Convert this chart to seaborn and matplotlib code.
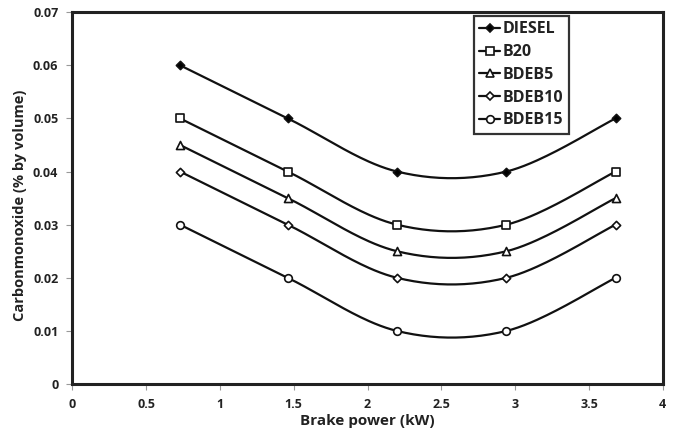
import numpy as np
import pandas as pd
import matplotlib
matplotlib.use("Agg")
import matplotlib.pyplot as plt
import seaborn as sns

# Brake power (kW) and CO emissions (% by volume) for each fuel blend
brake_power = [0.73, 1.46, 2.2, 2.94, 3.68]
diesel = [0.06, 0.05, 0.04, 0.04, 0.05]
b20 = [0.05, 0.04, 0.03, 0.03, 0.04]
bdeb5 = [0.045, 0.035, 0.025, 0.025, 0.035]
bdeb10 = [0.04, 0.03, 0.02, 0.02, 0.03]
bdeb15 = [0.03, 0.02, 0.01, 0.01, 0.02]
fuels = ["DIESEL", "B20", "BDEB5", "BDEB10", "BDEB15"]

x_ticks = [0, 0.5, 1, 1.5, 2, 2.5, 3, 3.5, 4]
y_ticks = [0, 0.01, 0.02, 0.03, 0.04, 0.05, 0.06, 0.07]

series = dict(zip(fuels, [diesel, b20, bdeb5, bdeb10, bdeb15]))
markers = {"DIESEL": "D", "B20": "s", "BDEB5": "^", "BDEB10": "D", "BDEB15": "o"}
msizes = {"DIESEL": 4.2, "B20": 5.3, "BDEB5": 5.8, "BDEB10": 4.2, "BDEB15": 5.5}
faces = {"DIESEL": "black", "B20": "white", "BDEB5": "white", "BDEB10": "white", "BDEB15": "white"}


def smooth_curve(x, y, n=40):
    """Bezier smoothing through points (Catmull-Rom style tangents)."""
    x = np.asarray(x, float)
    y = np.asarray(y, float)
    px = np.concatenate([[x[0]], x, [x[-1]]])
    py = np.concatenate([[y[0]], y, [y[-1]]])
    xs, ys = [], []
    t = np.linspace(0, 1, n)
    for i in range(1, len(px) - 2):
        p0 = np.array([px[i], py[i]])
        p3 = np.array([px[i + 1], py[i + 1]])
        p1 = p0 + (np.array([px[i + 1], py[i + 1]]) - np.array([px[i - 1], py[i - 1]])) / 6
        p2 = p3 - (np.array([px[i + 2], py[i + 2]]) - np.array([px[i], py[i]])) / 6
        b = ((1 - t) ** 3)[:, None] * p0 + (3 * (1 - t) ** 2 * t)[:, None] * p1 \
            + (3 * (1 - t) * t ** 2)[:, None] * p2 + (t ** 3)[:, None] * p3
        xs.extend(b[:, 0])
        ys.extend(b[:, 1])
    return xs, ys


sns.set_theme(style="white")
plt.rcParams["font.family"] = ["Open Sans", "DejaVu Sans"]
plt.rcParams["font.weight"] = "bold"

fig = plt.figure(figsize=(6.75, 4.34), dpi=100)
ax = fig.add_axes([0.107, 0.115, 0.875, 0.857])

for name in fuels:
    vals = series[name]
    cx, cy = smooth_curve(brake_power, vals)
    curve = pd.DataFrame({"x": cx, "y": cy})
    sns.lineplot(data=curve, x="x", y="y", ax=ax, color="#111111", lw=1.6,
                 sort=False, estimator=None, zorder=2)
    pts = pd.DataFrame({"x": brake_power, "y": vals})
    sns.scatterplot(data=pts, x="x", y="y", ax=ax, marker=markers[name],
                    s=msizes[name] ** 2, facecolor=faces[name],
                    edgecolor="#111111", linewidth=1.2, zorder=3)
    ax.plot([], [], color="#111111", lw=1.6, marker=markers[name],
            ms=msizes[name], mfc=faces[name], mec="#111111", mew=1.2,
            label=name)

ax.set_xlim(0, 4)
ax.set_ylim(0, 0.07)
ax.set_xticks(x_ticks)
ax.set_yticks(y_ticks)
ax.set_xticklabels([f"{v:g}" for v in x_ticks])
ax.set_yticklabels([f"{v:g}" for v in y_ticks])
ax.tick_params(axis="both", direction="out", length=4, width=0.8, color="#999999",
               labelsize=9, labelcolor="#222222", bottom=True, left=True, pad=6)
for lab in ax.get_xticklabels() + ax.get_yticklabels():
    lab.set_fontweight("bold")
for s in ax.spines.values():
    s.set_linewidth(2.2)
    s.set_color("#222222")

ax.set_xlabel("Brake power (kW)", fontsize=11, fontweight="bold", color="#222222", labelpad=2)
ax.set_ylabel("Carbonmonoxide (% by volume)", fontsize=10.5, fontweight="bold", color="#222222")
ax.yaxis.set_label_coords(-0.077, 0.48)

leg = ax.legend(loc="upper left", bbox_to_anchor=(0.68, 0.99), borderaxespad=0,
                frameon=True, fancybox=False, edgecolor="black", handlelength=1.3,
                handletextpad=0.15, borderpad=0.35, labelspacing=0.42,
                prop={"weight": "bold", "size": 11.5})
leg.get_frame().set_linewidth(1.6)
for t in leg.get_texts():
    t.set_color("#222222")

fig.savefig("out.png", dpi=100, facecolor="white")
